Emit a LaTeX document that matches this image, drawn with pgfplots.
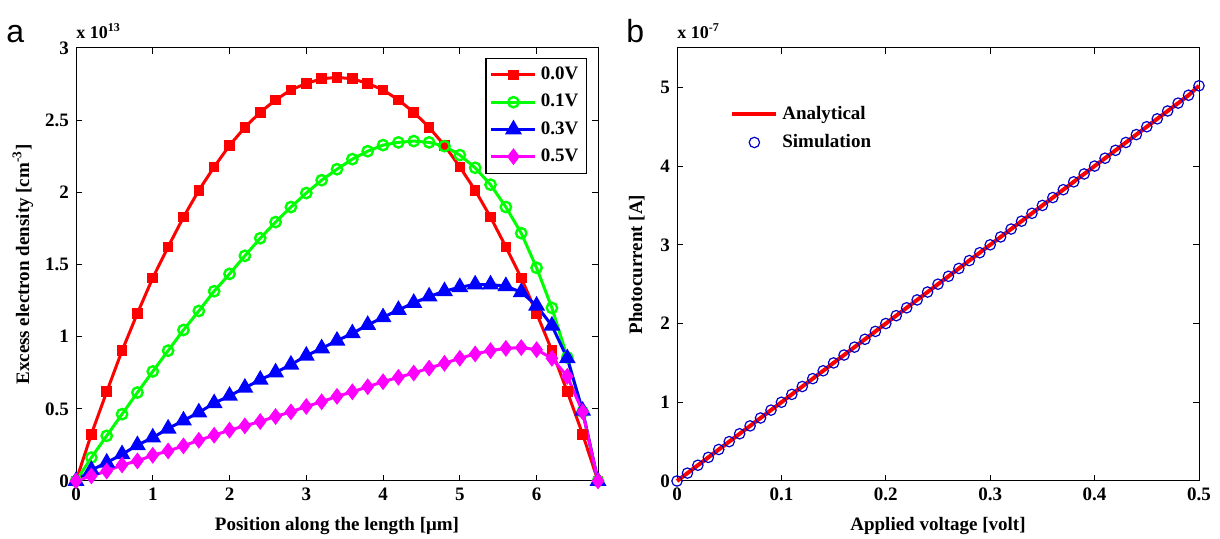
\documentclass[border=0pt]{standalone}
\usepackage{fontspec}
\setmainfont{Liberation Serif}
\newfontfamily\sansf{Liberation Sans}
\usepackage{pgfplots}
\usepackage{pgfplotstable}
\pgfplotsset{compat=1.18}
\definecolor{mred}{RGB}{255,0,0}
\definecolor{mgreen}{RGB}{0,255,0}
\definecolor{mblue}{RGB}{0,0,255}
\definecolor{mmag}{RGB}{255,0,255}
\definecolor{mcirc}{RGB}{0,0,200}

\pgfplotstableread{
x    r      g      b      m
0.0  0      0      0      0
0.2  0.324  0.162  0.076  0.035
0.4  0.618  0.313  0.127  0.069
0.6  0.903  0.463  0.185  0.111
0.8  1.162  0.613  0.248  0.139
1.0  1.407  0.759  0.301  0.178
1.2  1.622  0.903  0.363  0.208
1.4  1.828  1.046  0.419  0.243
1.6  2.014  1.178  0.475  0.282
1.8  2.176  1.315  0.539  0.317
2.0  2.325  1.435  0.590  0.352
2.2  2.450  1.560  0.646  0.382
2.4  2.555  1.682  0.701  0.412
2.6  2.640  1.794  0.752  0.447
2.8  2.710  1.898  0.806  0.479
3.0  2.754  1.995  0.868  0.516
3.2  2.787  2.084  0.919  0.549
3.4  2.796  2.160  0.972  0.586
3.6  2.787  2.230  1.023  0.618
3.8  2.754  2.285  1.081  0.653
4.0  2.710  2.327  1.134  0.688
4.2  2.640  2.346  1.185  0.718
4.4  2.555  2.355  1.234  0.748
4.6  2.450  2.346  1.278  0.782
4.8  2.325  2.320  1.315  0.815
5.0  2.176  2.258  1.343  0.850
5.2  2.014  2.170  1.361  0.880
5.4  1.828  2.053  1.361  0.903
5.6  1.622  1.898  1.350  0.919
5.8  1.407  1.717  1.308  0.924
6.0  1.162  1.477  1.215  0.910
6.2  0.903  1.199  1.076  0.850
6.4  0.618  0.856  0.850  0.725
6.6  0.324  0.480  0.486  0.479
6.8  0      0      0      0
}\densitydata

\pgfplotstableread{
v     i
0.00  0.00
0.01  0.10
0.02  0.20
0.03  0.30
0.04  0.40
0.05  0.50
0.06  0.60
0.07  0.70
0.08  0.80
0.09  0.90
0.10  1.00
0.11  1.10
0.12  1.20
0.13  1.30
0.14  1.40
0.15  1.50
0.16  1.60
0.17  1.70
0.18  1.80
0.19  1.90
0.20  2.00
0.21  2.10
0.22  2.20
0.23  2.30
0.24  2.40
0.25  2.50
0.26  2.60
0.27  2.70
0.28  2.80
0.29  2.90
0.30  3.00
0.31  3.10
0.32  3.20
0.33  3.30
0.34  3.40
0.35  3.50
0.36  3.60
0.37  3.70
0.38  3.80
0.39  3.90
0.40  4.00
0.41  4.10
0.42  4.20
0.43  4.30
0.44  4.40
0.45  4.50
0.46  4.60
0.47  4.70
0.48  4.80
0.49  4.90
0.50  5.02
}\currentdata

\pgfplotsset{
  matlab/.style={
    scale only axis,
    tick align=inside,
    major tick length=3pt,
    axis line style={black, line width=0.5pt},
    every tick/.style={black, line width=0.5pt},
    tick label style={font=\bfseries\fontsize{9.5}{11}\selectfont},
    label style={font=\bfseries\fontsize{9.5}{11}\selectfont},
    /pgf/number format/assume math mode=true,
    legend style={font=\bfseries\fontsize{9.5}{11}\selectfont},
    legend cell align=left,
    legend image code/.code={\draw[mark repeat=2,mark phase=2,##1] plot coordinates {(0pt,0pt) (11pt,0pt) (22pt,0pt)};},
  }
}

\begin{document}
\begin{tikzpicture}
\useasboundingbox (0,0) rectangle (610pt,269.5pt);
% panel letters
\node[anchor=base west, font=\sansf\fontsize{16}{18}\selectfont, inner sep=0pt] at (3pt,248pt) {a};
\node[anchor=base west, font=\sansf\fontsize{16}{18}\selectfont, inner sep=0pt] at (313pt,248pt) {b};

\begin{axis}[matlab,
  at={(38pt,29pt)}, anchor=south west,
  width=261pt, height=216.5pt,
  xmin=0, xmax=6.8, ymin=0, ymax=3,
  xtick={0,1,2,3,4,5,6},
  ytick={0,0.5,1,1.5,2,2.5,3},
  yticklabels={0,0.5,1,1.5,2,2.5,3},
  xlabel={Position along the length [μm]},
  ylabel={Excess electron density [cm\textsuperscript{-3}]},
  xlabel style={at={(axis description cs:0.5,-0.115)}, anchor=base},
  ylabel style={at={(axis description cs:-0.09,0.5)}, anchor=base},
  legend style={at={(0.979,0.978)}, anchor=north east, draw=black, line width=0.6pt,
     row sep=1.8pt, inner xsep=2pt, inner ysep=2.5pt},
  legend image post style={line width=1.5pt},
  clip=false,
]
\addplot[mred, line width=1.5pt, mark=square*, mark size=1.9pt] table[x=x,y=r]{\densitydata};
\addlegendentry{0.0V}
\addplot[mgreen, line width=1.5pt, mark=o, mark size=2.6pt, mark options={line width=1.2pt}] table[x=x,y=g]{\densitydata};
\addlegendentry{0.1V}
\addplot[mblue, line width=1.5pt, mark=triangle*, mark size=3.4pt] table[x=x,y=b]{\densitydata};
\addlegendentry{0.3V}
\addplot[mmag, line width=1.5pt, mark=diamond*, mark size=3pt] table[x=x,y=m]{\densitydata};
\addlegendentry{0.5V}
\node[anchor=south west, inner sep=0pt, font=\bfseries\fontsize{9}{10}\selectfont] at (axis description cs:0.0,1.02) {x 10\textsuperscript{\fontsize{6}{7}\selectfont 13}};
\end{axis}

\begin{axis}[matlab,
  at={(338.5pt,29pt)}, anchor=south west,
  width=261pt, height=216.5pt,
  xmin=0, xmax=0.5, ymin=0, ymax=5.5,
  xtick={0,0.1,0.2,0.3,0.4,0.5},
  xticklabels={0,0.1,0.2,0.3,0.4,0.5},
  ytick={0,1,2,3,4,5},
  xlabel={Applied voltage [volt]},
  ylabel={Photocurrent [A]},
  xlabel style={at={(axis description cs:0.5,-0.115)}, anchor=base},
  ylabel style={at={(axis description cs:-0.067,0.5)}, anchor=base},
  legend style={at={(0.09,0.885)}, anchor=north west, draw=none, fill=none, row sep=2pt},
  clip=false,
]
\addplot[mred, line width=2pt] table[x=v,y=i]{\currentdata};
\addlegendentry{Analytical}
\addplot[only marks, mcirc, mark=o, mark size=2.6pt, mark options={line width=0.6pt}] table[x=v,y=i]{\currentdata};
\addlegendentry{Simulation}
\node[anchor=south west, inner sep=0pt, font=\bfseries\fontsize{9}{10}\selectfont] at (axis description cs:0.0,1.02) {x 10\textsuperscript{\fontsize{6}{7}\selectfont -7}};
\end{axis}
\end{tikzpicture}
\end{document}
